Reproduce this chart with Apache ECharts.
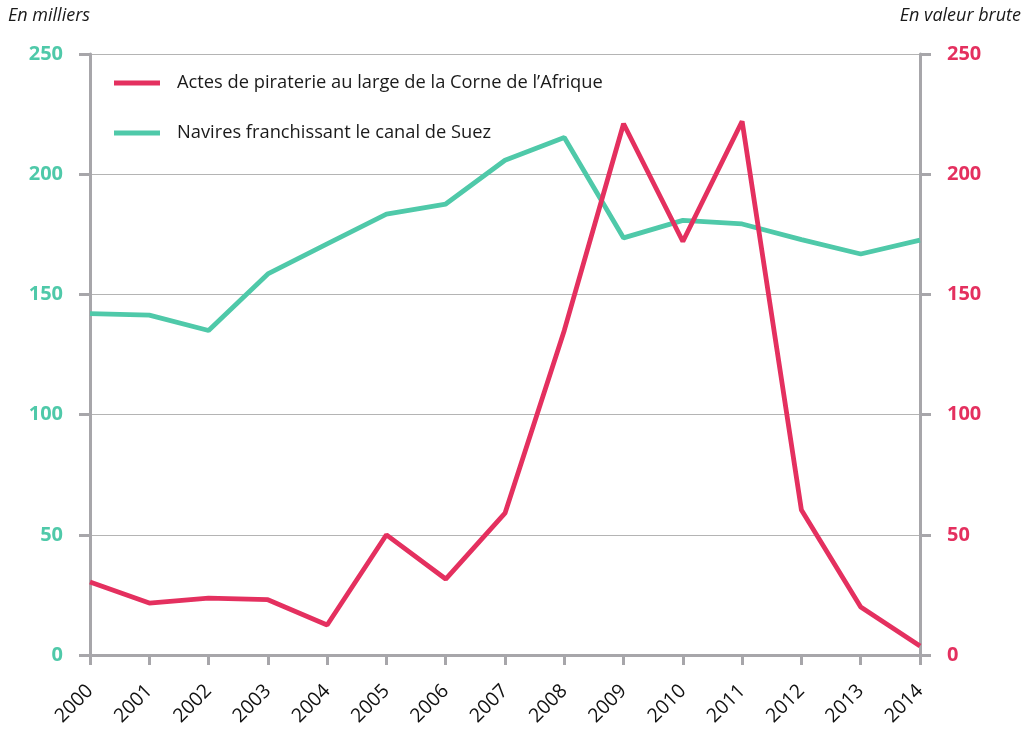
<!DOCTYPE html>
<html>
<head>
<meta charset="utf-8">
<script src="https://cdn.jsdelivr.net/npm/echarts@6/dist/echarts.min.js"></script>
<style>
  html, body { margin: 0; padding: 0; background: #fff; }
  #chart { width: 1026px; height: 731px; }
</style>
</head>
<body>
<div id="chart"></div>
<script>
// Years on the horizontal axis
const years = ['2000','2001','2002','2003','2004','2005','2006','2007','2008','2009','2010','2011','2012','2013','2014'];
// Ships transiting the Suez canal (thousands, left axis)
const suez = [142, 141.4, 135, 158.5, 171, 183.4, 187.6, 205.8, 215.3, 173.5, 180.8, 179.3, 172.8, 166.8, 172.6];
// Piracy incidents off the Horn of Africa (raw count, right axis)
const piracy = [30.4, 21.6, 23.7, 23, 12.5, 50, 31.6, 59, 135, 221, 172, 222, 60.3, 20, 3.7];
// Tick labels
const yTicks = [0, 50, 100, 150, 200, 250];

const GREEN = '#4fc9a9';
const RED = '#e4305f';
const GRAY = '#a7a6aa';
const FONT = '"Open Sans", "Noto Sans", sans-serif';

const chart = echarts.init(document.getElementById('chart'), null, { renderer: 'canvas' });

const yAxisBase = {
  type: 'value', min: 0, max: 250, interval: 50,
  axisLine: { show: true, lineStyle: { color: GRAY, width: 3 } },
  axisTick: { show: true, length: 11, lineStyle: { color: GRAY, width: 3 } },
  splitLine: { show: false },
  axisLabel: { fontFamily: FONT, fontSize: 20, fontWeight: 'bold', margin: 27,
    formatter: v => yTicks.includes(v) ? String(v) : '' }
};

chart.setOption({
  animation: false,
  textStyle: { fontFamily: FONT },
  grid: { left: 90, right: 106, top: 54, bottom: 76, containLabel: false },
  graphic: [
    { type: 'text', left: 8, top: 7, style: { text: 'En milliers', fontFamily: FONT, fontStyle: 'italic', fontSize: 18, fill: '#1a1a1a' } },
    { type: 'text', right: 5, top: 7, style: { text: 'En valeur brute', fontFamily: FONT, fontStyle: 'italic', fontSize: 18, fill: '#1a1a1a' } }
  ],
  legend: {
    orient: 'vertical', left: 109, top: 69,
    itemWidth: 46, itemHeight: 5, itemGap: 32,
    icon: 'rect',
    textStyle: { fontFamily: FONT, fontSize: 18.3, color: '#1a1a1a', padding: [0, 0, 0, 12] },
    data: ['Actes de piraterie au large de la Corne de l\u2019Afrique', 'Navires franchissant le canal de Suez']
  },
  xAxis: {
    type: 'category', data: years, boundaryGap: false,
    axisLine: { lineStyle: { color: GRAY, width: 3 } },
    axisTick: { show: true, alignWithLabel: true, length: 10, lineStyle: { color: GRAY, width: 3 } },
    axisLabel: { rotate: 45, fontFamily: FONT, fontSize: 19.5, color: '#111', margin: 33, interval: 0 },
    splitLine: { show: false }
  },
  yAxis: [
    Object.assign({}, yAxisBase, {
      position: 'left',
      axisLabel: Object.assign({}, yAxisBase.axisLabel, { color: GREEN }),
      splitLine: { show: true, lineStyle: { color: '#b4b4b4', width: 1.2 } }
    }),
    Object.assign({}, yAxisBase, {
      position: 'right',
      axisLabel: Object.assign({}, yAxisBase.axisLabel, { color: RED })
    })
  ],
  series: [
    {
      name: 'Actes de piraterie au large de la Corne de l\u2019Afrique',
      type: 'line', yAxisIndex: 1, data: piracy,
      showSymbol: false, symbol: 'none', z: 3,
      lineStyle: { color: RED, width: 4.8 }, itemStyle: { color: RED }
    },
    {
      name: 'Navires franchissant le canal de Suez',
      type: 'line', yAxisIndex: 0, data: suez,
      showSymbol: false, symbol: 'none', z: 2,
      lineStyle: { color: GREEN, width: 4.8 }, itemStyle: { color: GREEN }
    }
  ]
});
</script>
</body>
</html>
